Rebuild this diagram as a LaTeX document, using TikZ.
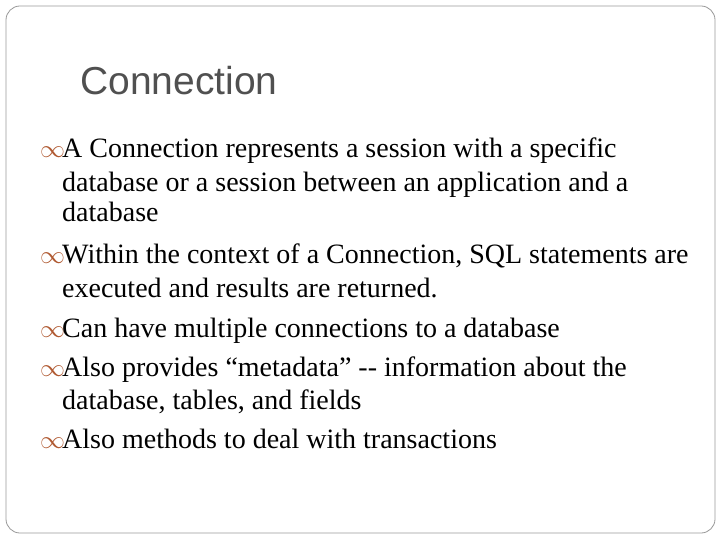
\documentclass[tikz,border=0pt]{standalone}
\usepackage{fontspec}
\setmainfont{Liberation Serif}
\newfontfamily\titlefont{Liberation Sans}
\definecolor{bul}{RGB}{176,90,50}
\definecolor{ttl}{RGB}{80,80,80}
\begin{document}
\begin{tikzpicture}[x=1pt,y=-1pt,
  ln/.style={anchor=base west,inner sep=0pt,font=\fontsize{28}{32}\selectfont},
  bu/.style={anchor=base west,inner sep=0pt,text=bul,font=\fontsize{26}{30}\selectfont}]
\useasboundingbox (0,0) rectangle (720,540);
\draw[gray!80,line width=0.8pt,rounded corners=14pt] (6,6) rectangle (715,533);
\node[anchor=base west,inner sep=0pt,text=ttl,font=\titlefont\fontsize{39}{44}\selectfont] (t) at (80,95) {Connection};
\foreach \y/\n in {158/b1,263/b2,337/b3,376/b4,448/b5}
  \node[bu] (\n) at (40,\y) {$\infty$};
\node[ln] (l1) at (62,158) {A Connection represents a session with a specific};
\node[ln] (l2) at (62,192) {database or a session between an application and a};
\node[ln] (l3) at (62,222) {database};
\node[ln] (l4) at (62,263) {Within the context of a Connection, SQL statements are};
\node[ln] (l5) at (62,297) {executed and results are returned.};
\node[ln] (l6) at (62,337) {Can have multiple connections to a database};
\node[ln] (l7) at (62,376) {Also provides “metadata” {-}{-} information about the};
\node[ln] (l8) at (62,409) {database, tables, and fields};
\node[ln] (l9) at (62,448) {Also methods to deal with transactions};
\end{tikzpicture}
\end{document}
